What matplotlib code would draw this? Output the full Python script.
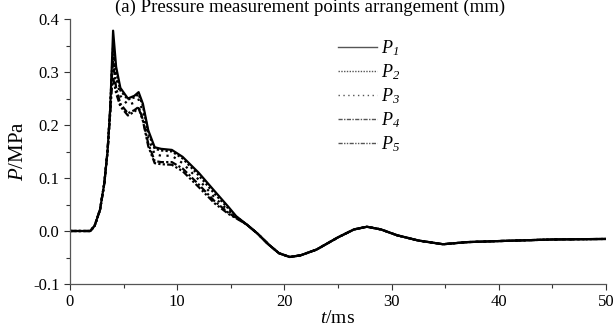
import matplotlib
matplotlib.use("Agg")
import matplotlib.pyplot as plt
from matplotlib.lines import Line2D
from matplotlib.ticker import MultipleLocator, FormatStrFormatter

plt.rcParams["font.family"] = ["Liberation Serif", "DejaVu Serif"]
# digits in math are always drawn with the "rm" font, so make rm italic
# and keep the upright text in \mathsf
plt.rcParams["mathtext.fontset"] = "custom"
plt.rcParams["mathtext.rm"] = "Liberation Serif:italic"
plt.rcParams["mathtext.it"] = "Liberation Serif:italic"
plt.rcParams["mathtext.sf"] = "Liberation Serif"

# time axis (ms), shared by all gauges
t_ms = [0, 1.0, 1.9, 2.3, 2.8, 3.2, 3.5, 3.75, 3.9, 4.02, 4.3, 4.7, 5.4, 6.0,
        6.4, 6.8, 7.3, 7.9, 8.5, 9.5, 10.5, 12.0, 13.5, 14.8, 15.5, 16.5,
        17.5, 18.5, 19.5, 20.5, 21.5, 23, 25, 26.5, 27.7, 29, 30.5, 32.5,
        34.8, 37, 40, 45, 50]

# pressure (MPa)
p1 = [0, 0, 0, 0.01, 0.04, 0.09, 0.15, 0.23, 0.31, 0.378, 0.31, 0.27, 0.25,
      0.255, 0.262, 0.24, 0.19, 0.158, 0.155, 0.153, 0.14, 0.11, 0.075, 0.045,
      0.028, 0.012, -0.005, -0.025, -0.042, -0.049, -0.046, -0.035, -0.012,
      0.003, 0.008, 0.003, -0.008, -0.018, -0.025, -0.021, -0.019, -0.016,
      -0.015]
p2 = [0, 0, 0, 0.01, 0.04, 0.09, 0.15, 0.23, 0.30, 0.35, 0.30, 0.265, 0.248,
      0.252, 0.258, 0.236, 0.185, 0.155, 0.152, 0.15, 0.137, 0.105, 0.07,
      0.042, 0.027, 0.012, -0.005, -0.025, -0.042, -0.049, -0.046, -0.035,
      -0.012, 0.003, 0.008, 0.003, -0.008, -0.018, -0.025, -0.021, -0.019,
      -0.016, -0.015]
p3 = [0, 0, 0, 0.01, 0.04, 0.09, 0.15, 0.23, 0.30, 0.34, 0.29, 0.255, 0.238,
      0.242, 0.248, 0.225, 0.175, 0.145, 0.142, 0.142, 0.128, 0.097, 0.063,
      0.038, 0.026, 0.012, -0.005, -0.025, -0.042, -0.049, -0.046, -0.035,
      -0.012, 0.003, 0.008, 0.003, -0.008, -0.018, -0.025, -0.021, -0.019,
      -0.016, -0.015]
p4 = [0, 0, 0, 0.01, 0.04, 0.09, 0.15, 0.23, 0.29, 0.32, 0.27, 0.24, 0.222,
      0.228, 0.234, 0.21, 0.165, 0.132, 0.13, 0.13, 0.118, 0.088, 0.056,
      0.034, 0.025, 0.012, -0.005, -0.025, -0.042, -0.049, -0.046, -0.035,
      -0.012, 0.003, 0.008, 0.003, -0.008, -0.018, -0.025, -0.021, -0.019,
      -0.016, -0.015]
p5 = [0, 0, 0, 0.01, 0.04, 0.09, 0.15, 0.22, 0.27, 0.29, 0.26, 0.235, 0.218,
      0.225, 0.232, 0.208, 0.16, 0.128, 0.126, 0.125, 0.113, 0.083, 0.052,
      0.032, 0.024, 0.012, -0.005, -0.025, -0.042, -0.049, -0.046, -0.035,
      -0.012, 0.003, 0.008, 0.003, -0.008, -0.018, -0.025, -0.021, -0.019,
      -0.016, -0.015]

series = [p1, p2, p3, p4, p5]
labels = [r"$P_1$", r"$P_2$", r"$P_3$", r"$P_4$", r"$P_5$"]
styles = ["-", (0, (1, 1)), (0, (1, 2.5)), (0, (3, 1, 1, 1)),
          (0, (3, 1, 1, 1, 1, 1))]

fig = plt.figure(figsize=(6.13, 3.34), dpi=100)
ax = fig.add_axes([70 / 613, 1 - 284 / 334, 536 / 613, 265 / 334])

for p, ls in zip(series, styles):
    ax.plot(t_ms, p, color="black", linestyle=ls, linewidth=1.6)

ax.set_xlim(0, 50)
ax.set_ylim(-0.1, 0.4)
ax.xaxis.set_major_locator(MultipleLocator(10))
ax.xaxis.set_minor_locator(MultipleLocator(5))
ax.yaxis.set_major_locator(MultipleLocator(0.1))
ax.yaxis.set_minor_locator(MultipleLocator(0.05))
ax.yaxis.set_major_formatter(FormatStrFormatter("%.1f"))
ax.tick_params(which="major", direction="out", length=4, width=0.8,
               labelsize=12, colors="#333333", labelcolor="black")
ax.tick_params(which="minor", direction="out", length=3, width=0.8,
               colors="#333333")
for side in ["top", "right"]:
    ax.spines[side].set_visible(False)
for side in ["left", "bottom"]:
    ax.spines[side].set_color("#555555")
    ax.spines[side].set_linewidth(0.9)

ax.set_xlabel(r"$t\mathsf{/ms}$", fontsize=14, labelpad=0)
ax.set_ylabel(r"$P\mathsf{/MPa}$", fontsize=15, labelpad=4)

handles = [Line2D([], [], color="#555555", linestyle=ls, linewidth=1.0)
           for ls in styles]
ax.legend(handles, labels, loc="upper left", bbox_to_anchor=(0.47, 0.99),
          frameon=False, fontsize=13, handlelength=2.15, handletextpad=0.2,
          labelspacing=0.25)

# figure caption from the page above (cut off in the reference)
fig.text(310 / 613, 1 - 12 / 334, "(a) Pressure measurement points arrangement (mm)",
         ha="center", va="baseline", fontsize=13.5)

fig.savefig("out.png", dpi=100)
